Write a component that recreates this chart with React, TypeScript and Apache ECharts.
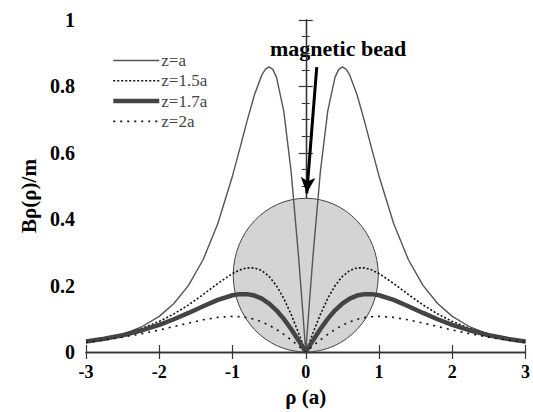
import React, { useEffect, useRef } from "react";
import * as echarts from "echarts";

const rho = [-3, -2.75, -2.5, -2.25, -2, -1.8, -1.6, -1.4, -1.2, -1, -0.9, -0.8, -0.7, -0.6, -0.5, -0.4, -0.3, -0.2, -0.1, 0,
  0.1, 0.2, 0.3, 0.4, 0.5, 0.6, 0.7, 0.8, 0.9, 1, 1.2, 1.4, 1.6, 1.8, 2, 2.25, 2.5, 2.75, 3];
const rhoA = [-3, -2.75, -2.5, -2.25, -2, -1.8, -1.6, -1.4, -1.2, -1, -0.9, -0.8, -0.7, -0.6, -0.55, -0.5, -0.45, -0.4, -0.3, -0.2, -0.1, -0.05, 0,
  0.05, 0.1, 0.2, 0.3, 0.4, 0.45, 0.5, 0.55, 0.6, 0.7, 0.8, 0.9, 1, 1.2, 1.4, 1.6, 1.8, 2, 2.25, 2.5, 2.75, 3];

const zA = [0.0285, 0.0385, 0.053, 0.0746, 0.1073, 0.1459, 0.2007, 0.2786, 0.3871, 0.5303, 0.6126, 0.6968, 0.775, 0.8345, 0.8522, 0.8587, 0.8514, 0.828, 0.7256, 0.544, 0.2926, 0.1491, 0,
  0.1491, 0.2926, 0.544, 0.7256, 0.828, 0.8514, 0.8587, 0.8522, 0.8345, 0.775, 0.6968, 0.6126, 0.5303, 0.3871, 0.2786, 0.2007, 0.1459, 0.1073, 0.0746, 0.053, 0.0385, 0.0285];
const z15 = [0.0318, 0.041, 0.0534, 0.07, 0.0922, 0.1147, 0.1419, 0.1732, 0.2065, 0.2363, 0.2473, 0.2535, 0.2535, 0.2453, 0.2277, 0.1996, 0.1612, 0.1134, 0.0586, 0,
  0.0586, 0.1134, 0.1612, 0.1996, 0.2277, 0.2453, 0.2535, 0.2535, 0.2473, 0.2363, 0.2065, 0.1732, 0.1419, 0.1147, 0.0922, 0.07, 0.0534, 0.041, 0.0318];
const z17 = [0.0314, 0.0397, 0.0505, 0.0643, 0.0819, 0.0987, 0.1177, 0.1378, 0.1569, 0.1709, 0.1743, 0.1743, 0.17, 0.1607, 0.146, 0.1256, 0.0998, 0.0694, 0.0356, 0,
  0.0356, 0.0694, 0.0998, 0.1256, 0.146, 0.1607, 0.17, 0.1743, 0.1743, 0.1709, 0.1569, 0.1378, 0.1177, 0.0987, 0.0819, 0.0643, 0.0505, 0.0397, 0.0314];
const z2 = [0.0295, 0.0363, 0.0446, 0.0546, 0.0663, 0.0766, 0.0871, 0.0969, 0.1043, 0.1073, 0.1064, 0.1035, 0.0983, 0.0907, 0.0806, 0.068, 0.0532, 0.0366, 0.0186, 0,
  0.0186, 0.0366, 0.0532, 0.068, 0.0806, 0.0907, 0.0983, 0.1035, 0.1064, 0.1073, 0.1043, 0.0969, 0.0871, 0.0766, 0.0663, 0.0546, 0.0446, 0.0363, 0.0295];

const seriesNames = ["z=a", "z=1.5a", "z=1.7a", "z=2a"];
// bead: center x, center y, radius x, radius y (data units)
const bead = [0, 0.2315, 0.99, 0.2315];
const arrowStart = [0.15, 0.858];
const arrowEnd = [0.014, 0.478];
const annotation = "magnetic bead";

const serif = "Liberation Serif, Times New Roman, serif";

const styles = [
  { color: "#555", width: 1.4, type: "solid" as any },
  { color: "#111", width: 1.6, type: [2, 2] as any },
  { color: "#444", width: 4.5, type: "solid" as any },
  { color: "#111", width: 1.6, type: [2, 5] as any },
];

function pairs(xs: number[], ys: number[]) {
  return xs.map((x, i) => [x, ys[i]]);
}

export default function App() {
  const ref = useRef<HTMLDivElement>(null);
  useEffect(() => {
    document.body.style.margin = "0";
    const chart = echarts.init(ref.current!, null, { renderer: "svg" });
    const axisLine = { show: true, lineStyle: { color: "#333", width: 1.3 } };
    const tick = { show: true, inside: true, length: 7, lineStyle: { color: "#333", width: 1.2 } };
    const minor = { show: true, splitNumber: 4, length: 4, lineStyle: { color: "#333", width: 1 } };
    const lab = { color: "#000", fontFamily: serif, fontWeight: "bold" as const };
    const line = (i: number, xs: number[], ys: number[], extra: any = {}) => ({
      name: seriesNames[i], type: "line", showSymbol: false, symbol: "none", z: 3,
      lineStyle: styles[i], itemStyle: { color: styles[i].color },
      data: pairs(xs, ys), ...extra,
    });
    chart.setOption({
      animation: false,
      backgroundColor: "#fff",
      textStyle: { fontFamily: serif },
      grid: { left: 86, right: 5, top: 20, bottom: 60 },
      legend: {
        data: seriesNames.map((n, i) => ({ name: n, lineStyle: { ...styles[i] }, itemStyle: { opacity: 0, color: "transparent", borderWidth: 0 } })),
        orient: "vertical",
        left: 106,
        top: 47,
        itemWidth: 46,
        itemHeight: 14,
        itemGap: 3.3,
        textStyle: { fontFamily: serif, fontSize: 17, color: "#444", padding: [0, 0, 0, -3] },
      },
      xAxis: [
        {
          type: "value", min: -3, max: 3, interval: 1, position: "bottom",
          axisLine, axisTick: tick, splitLine: { show: false },
          axisLabel: { ...lab, fontSize: 18, margin: 11 },
          name: "ρ (a)", nameLocation: "middle", nameGap: 34,
          nameTextStyle: { color: "#000", fontFamily: serif, fontWeight: "bold", fontSize: 21 },
        },
        {
          type: "value", min: -3, max: 3, interval: 1, position: "top",
          axisLine, axisTick: tick, splitLine: { show: false }, axisLabel: { show: false },
        },
      ],
      yAxis: [
        {
          type: "value", min: 0, max: 1, interval: 0.2, position: "left",
          axisLine, axisTick: tick, minorTick: minor, splitLine: { show: false },
          axisLabel: { ...lab, fontSize: 20, margin: 11 },
        },
        {
          type: "value", min: 0, max: 1, interval: 0.2, position: "right",
          axisLine, axisTick: tick, minorTick: minor, splitLine: { show: false }, axisLabel: { show: false },
        },
      ],
      graphic: [
        {
          type: "text", x: 29, y: 196, rotation: Math.PI / 2,
          style: { text: "Bρ(ρ)/m", fill: "#000", font: `bold 21px ${serif}`, align: "center", verticalAlign: "middle" },
        },
        {
          type: "text", x: 338, y: 48,
          style: { text: annotation, fill: "#000", font: `bold 22px ${serif}`, align: "center", verticalAlign: "middle" },
        },
      ],
      series: [
        {
          type: "custom", silent: true, z: 1,
          renderItem: (params: any, api: any) => {
            const c = api.coord([api.value(0), api.value(1)]);
            const s = api.size([api.value(2), api.value(3)]);
            return {
              type: "ellipse",
              shape: { cx: c[0], cy: c[1], rx: s[0], ry: s[1] },
              style: { fill: "#d4d4d4", stroke: "#444", lineWidth: 1 },
            };
          },
          data: [bead],
        },
        line(0, rhoA, zA, {
          markLine: {
            silent: true, symbol: ["none", "arrow"], symbolSize: [11, 16],
            lineStyle: { color: "#000", width: 3, type: "solid" },
            label: { show: false },
            data: [[{ coord: arrowStart }, { coord: arrowEnd }]],
          },
        }),
        line(1, rho, z15),
        line(2, rho, z17),
        line(3, rho, z2),
      ],
    });
    return () => chart.dispose();
  }, []);
  return <div ref={ref} style={{ width: 533, height: 412 }} />;
}
